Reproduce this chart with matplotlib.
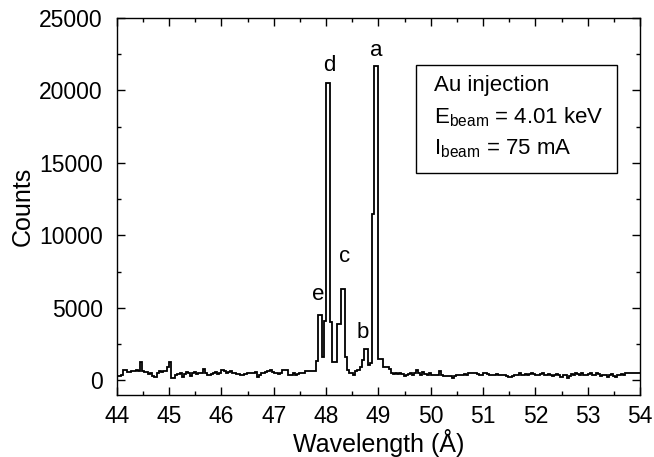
import numpy as np
import matplotlib
matplotlib.use("Agg")
import matplotlib.pyplot as plt
from matplotlib.patches import Rectangle
from matplotlib.ticker import MultipleLocator

plt.rcParams["font.family"] = ["Liberation Sans", "DejaVu Sans"]
plt.rcParams["mathtext.fontset"] = "custom"
plt.rcParams["mathtext.rm"] = "Liberation Sans"
plt.rcParams["mathtext.it"] = "Liberation Sans"

# spectrum: 0.04 A channels starting at 44.00 A
wl_start = 44.0
wl_step = 0.04
counts = [
    # 44 - 45
    300, 300, 380, 750, 700, 560, 560, 620, 650, 700, 680, 1250, 650,
    600, 600, 450, 550, 300, 250, 500, 650, 600, 650, 650, 900,
    # 45 - 46
    1300, 200, 200, 350, 450, 500, 250, 450, 600, 550, 300, 550, 600,
    450, 500, 500, 800, 500, 350, 350, 450, 500, 600, 450, 550,
    # 46 - 47
    700, 650, 500, 600, 650, 500, 550, 450, 450, 350, 350, 450, 550,
    550, 500, 550, 600, 250, 400, 500, 550, 600, 650, 700, 600,
    # 47 - 48
    550, 500, 450, 550, 700, 700, 700, 400, 400, 500, 400, 450, 550,
    550, 550, 640, 640, 640, 640, 640, 1330, 4500, 4500, 1600, 4100,
    # 48 - 49
    20500, 20500, 4000, 1300, 1300, 3900, 3900, 6300, 6300, 1650, 750, 550, 550,
    400, 650, 750, 900, 1400, 2200, 2200, 1100, 1200, 11500, 21700, 21700,
    # 49 - 50
    1450, 1450, 950, 950, 900, 800, 500, 480, 550, 450, 500, 480, 340,
    400, 450, 550, 400, 500, 700, 500, 400, 600, 450, 400, 500,
    # 50 - 51
    400, 400, 400, 400, 650, 400, 300, 300, 300, 300, 200, 300, 350,
    400, 400, 400, 450, 400, 550, 550, 500, 500, 450, 400, 400,
    # 51 - 52
    500, 550, 450, 400, 350, 400, 450, 400, 350, 400, 350, 300, 250,
    250, 300, 350, 400, 500, 400, 350, 450, 400, 450, 500, 450,
    # 52 - 53
    400, 350, 450, 500, 400, 350, 450, 400, 300, 400, 450, 350, 250,
    350, 400, 200, 300, 450, 400, 500, 450, 400, 500, 400, 350,
    # 53 - 54
    450, 550, 400, 350, 500, 450, 300, 400, 350, 250, 350, 450, 300,
    250, 350, 400, 450, 350, 550, 550, 550, 550, 500, 500, 500,
]

peak_names = ["a", "b", "c", "d", "e"]
peak_wl = [48.956, 48.70, 48.35, 48.063, 47.84]
peak_label_y = [22770, 3280, 8550, 21740, 5920]

info_lines = ["Au injection", r"E$_{\rm beam}$ = 4.01 keV", r"I$_{\rm beam}$ = 75 mA"]

edges = wl_start + wl_step * np.arange(len(counts) + 1)

fig = plt.figure(figsize=(6.54, 4.57), dpi=100)
ax = fig.add_axes([0.1786, 0.1357, 0.800, 0.825])

ax.stairs(counts, edges, color="black", linewidth=1.3, baseline=None)

ax.set_xlim(44, 54)
ax.set_ylim(-1000, 25000)
ax.xaxis.set_major_locator(MultipleLocator(1))
ax.xaxis.set_minor_locator(MultipleLocator(0.5))
ax.yaxis.set_major_locator(MultipleLocator(5000))
ax.yaxis.set_minor_locator(MultipleLocator(2500))
ax.tick_params(which="both", direction="in", top=True, right=True, width=1.0)
ax.tick_params(which="major", length=5.5, labelsize=16.5)
ax.tick_params(axis="y", which="major", pad=10)
ax.tick_params(axis="x", which="major", pad=7)
ax.tick_params(which="minor", length=2.8)
for s in ax.spines.values():
    s.set_linewidth(1.0)

ax.set_xlabel("Wavelength (Å)", fontsize=18, labelpad=1)
ax.set_ylabel("Counts", fontsize=18, labelpad=3)

for name, x, y in zip(peak_names, peak_wl, peak_label_y):
    ax.text(x, y, name, fontsize=16, ha="center", va="center")

# info box
ax.add_patch(Rectangle((0.5725, 0.5897), 0.383, 0.2854, transform=ax.transAxes,
                       fill=False, edgecolor="black", linewidth=1.0))
for i, line in enumerate(info_lines):
    ax.text(0.6056, 0.8214 - i * 0.0841, line, transform=ax.transAxes,
            fontsize=16, ha="left", va="center")

fig.savefig("out.png", dpi=100)
